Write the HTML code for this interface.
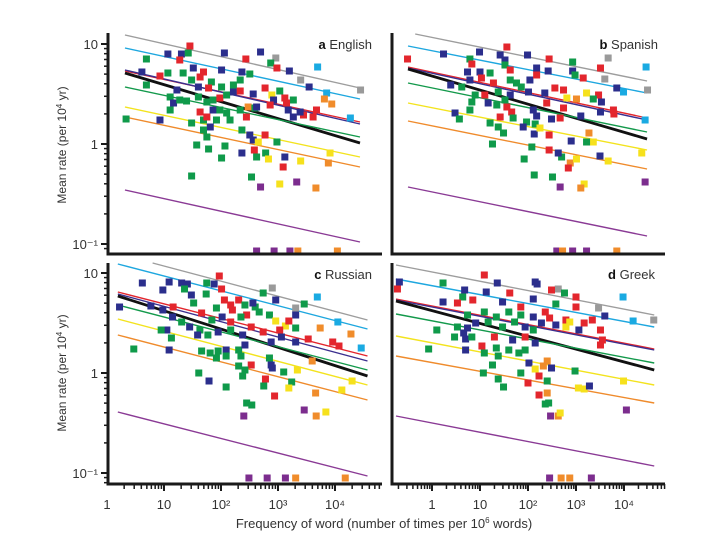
<!DOCTYPE html>
<html><head><meta charset="utf-8"><style>
html,body{margin:0;padding:0;background:#fff;}
svg{display:block;font-family:"Liberation Sans",sans-serif;}
</style></head><body>
<svg id="chart" width="720" height="540" viewBox="0 0 720 540" xmlns="http://www.w3.org/2000/svg">
<text x="0" y="0" transform="translate(66,145) rotate(-90)" text-anchor="middle" font-size="12" fill="#333">Mean rate (per 10<tspan font-size="8" dy="-4">4</tspan><tspan dy="4"> yr)</tspan></text>
<text x="0" y="0" transform="translate(66,373) rotate(-90)" text-anchor="middle" font-size="12" fill="#333">Mean rate (per 10<tspan font-size="8" dy="-4">4</tspan><tspan dy="4"> yr)</tspan></text>
<text x="384" y="528" text-anchor="middle" font-size="13" fill="#333">Frequency of word (number of times per 10<tspan font-size="8" dy="-5">6</tspan><tspan dy="5"> words)</tspan></text>
</svg>
<script>
const lineColors=["#9d9d9d","#1ea7df","#e3262d","#3b2f8f","#111111","#13994b","#f3e31e","#ef8b2c","#8a3a95"];
const pointColors={R:"#e3262d",N:"#2b2e8c",G:"#0f9a4a",Y:"#f6e11c",O:"#f08c2b",C:"#1aaae2",A:"#9a9a9a",P:"#7c2d8e"};
// per-panel line values (log10 rate at start / end), and x range (log10 freq)
const aLineStart=[1.09,0.96,0.73,0.74,0.71,0.57,0.37,0.27,-0.46];
const aLineEnd=[0.56,0.45,0.22,0.20,0.01,0.07,-0.13,-0.23,-0.98];
const bLineStart=[1.10,0.98,0.77,0.76,0.75,0.61,0.41,0.23,-0.43];
const bLineEnd=[0.63,0.51,0.26,0.24,0.05,0.12,-0.06,-0.25,-0.92];
const cLineStart=[1.10,1.09,0.81,0.79,0.77,0.68,0.54,0.38,-0.39];
const cLineEnd=[0.53,0.44,0.17,0.12,-0.03,0.03,-0.12,-0.27,-1.03];
const dLineStart=[1.08,0.94,0.74,0.73,0.72,0.59,0.37,0.17,-0.43];
const dLineEnd=[0.58,0.46,0.24,0.23,0.03,0.10,-0.12,-0.30,-0.93];
const aLineX=[0.30,4.46]; const bLineX=[-0.50,4.48]; const cLineX=[0.19,4.57]; const dLineX=[-0.75,4.63];
const aGrayX0=0.30, bGrayX0=-0.35, cGrayX0=0.80, dGrayX0=-0.75;
// scatter points: log10 frequency, log10 rate, color code
const aFreq=[1.45,1.06,1.30,1.27,1.42,0.68,2.06,2.70,2.44,2.97,2.88,2.99,3.21,3.41,3.71,3.56,4.47,3.87,3.83,3.96,4.29,0.60,1.06,1.33,0.92,1.69,1.48,1.51,1.63,2.01,2.37,2.51,2.34,1.83,2.01,2.22,1.78,1.60,1.22,1.10,1.16,1.27,1.39,1.60,1.75,1.86,1.98,2.10,2.22,2.34,2.57,2.78,3.04,2.90,3.13,3.28,3.16,2.93,2.87,0.68,0.32,0.92,1.10,1.63,1.69,1.75,1.86,1.98,2.10,1.81,1.92,2.16,2.34,2.48,2.60,2.45,2.63,1.48,1.69,1.75,1.57,1.78,2.07,2.01,2.37,2.51,2.57,2.78,2.66,2.37,2.59,2.63,2.79,2.99,2.84,3.13,3.10,3.41,3.93,3.90,1.48,2.54,2.70,3.04,3.34,3.68,3.28,3.46,3.69,3.63,3.19,3.40,2.63,2.94,3.22,3.36,4.06];
const aRate=[0.98,0.90,0.90,0.84,0.91,0.85,0.91,0.92,0.85,0.86,0.81,0.76,0.73,0.64,0.77,0.57,0.54,0.51,0.45,0.40,0.26,0.72,0.71,0.71,0.68,0.72,0.64,0.76,0.67,0.74,0.72,0.70,0.64,0.62,0.57,0.59,0.56,0.57,0.54,0.47,0.41,0.44,0.43,0.47,0.42,0.44,0.46,0.49,0.52,0.53,0.50,0.56,0.53,0.49,0.46,0.44,0.41,0.44,0.39,0.59,0.25,0.24,0.34,0.32,0.24,0.27,0.34,0.34,0.31,0.17,0.24,0.24,0.34,0.37,0.36,0.27,0.37,0.21,0.14,0.07,-0.01,-0.05,-0.02,-0.14,0.14,0.09,0.04,0.09,0.02,-0.09,-0.06,-0.13,-0.09,0.02,-0.15,-0.13,-0.23,-0.17,-0.09,-0.19,-0.32,-0.33,-0.43,-0.40,-0.38,-0.44,0.27,0.29,0.34,0.27,0.34,0.32,-1.07,-1.07,-1.07,-1.07,-1.07];
const aCol="RNNRGGNNRAGRNACNACOOCNGGRRGNRNNGGGGGRNNGNGGGGGRGNRNRGYRGRNRGGNGRGRNGGNGGGOGRNGGGGGGGGNNRYNRGGGYNRYYOGGPYPONRRRNNPPPOO";
const bFreq=[-0.51,0.24,1.56,0.99,1.42,1.52,0.79,0.83,1.52,1.63,1.99,2.44,2.93,3.51,3.67,4.46,2.18,2.42,2.93,2.98,3.15,3.60,0.74,1.00,1.21,1.03,0.79,1.28,0.39,0.62,1.63,1.76,1.86,2.04,2.18,2.01,2.56,2.74,2.35,0.90,1.10,1.38,1.63,1.52,0.83,1.17,1.35,1.56,1.66,0.79,0.48,0.57,1.42,1.69,2.11,2.18,1.97,2.39,2.49,2.67,2.74,2.81,3.01,3.22,3.47,3.36,3.53,3.51,3.78,3.79,3.10,3.85,3.99,4.49,4.44,1.21,1.38,1.49,1.26,1.90,2.13,2.15,2.44,2.25,3.27,3.36,2.90,3.22,2.08,2.44,1.92,2.70,2.63,2.88,2.84,3.01,3.50,3.67,4.37,2.13,2.51,2.67,3.17,3.10,4.44,2.60,2.72,2.93,3.22,3.85];
const bRate=[0.85,0.90,0.97,0.92,0.89,0.84,0.85,0.80,0.79,0.74,0.89,0.85,0.82,0.76,0.86,0.77,0.76,0.73,0.73,0.69,0.66,0.65,0.72,0.72,0.71,0.66,0.64,0.61,0.59,0.57,0.64,0.61,0.57,0.64,0.69,0.52,0.56,0.54,0.51,0.49,0.49,0.52,0.49,0.44,0.42,0.41,0.39,0.37,0.32,0.34,0.31,0.25,0.27,0.26,0.34,0.28,0.22,0.41,0.25,0.26,0.36,0.46,0.45,0.51,0.49,0.45,0.42,0.32,0.34,0.30,0.28,0.56,0.52,0.54,0.24,0.21,0.17,0.11,0.00,0.17,0.10,0.20,0.09,0.16,0.11,0.02,0.03,0.02,-0.03,-0.06,-0.15,-0.13,-0.09,-0.19,-0.24,-0.15,-0.12,-0.17,-0.09,-0.31,-0.33,-0.43,-0.40,-0.44,-0.38,-1.07,-1.07,-1.07,-1.07,-1.07];
const bCol="RNRNNNGRGRNRGRACNNNGRANNGRNRNGGGGNRNRRNGRGNGGNGRRGNGRGNNGRNRRYOYRGNNRRNNCACGGGGNNGRYOYNGGRGGNORYNYYGGPYOPPOPPO";
const cFreq=[1.97,0.62,1.09,0.98,1.31,1.41,1.75,1.88,2.01,1.36,1.48,1.74,2.90,2.74,2.96,3.46,3.31,3.69,3.31,4.05,3.74,4.28,4.46,0.22,0.77,1.16,0.98,1.66,1.52,2.06,2.17,2.31,2.42,2.60,2.67,2.45,2.56,2.20,1.92,2.02,1.84,2.35,2.17,2.85,2.96,3.13,3.19,3.31,1.15,1.31,1.45,1.63,1.05,1.13,0.95,1.59,1.77,1.95,2.17,2.38,2.53,2.74,3.03,3.06,3.53,3.96,4.07,3.31,1.09,0.47,1.66,1.81,1.95,2.09,1.92,2.09,2.31,2.35,2.42,2.88,2.85,2.88,2.53,2.31,3.60,1.61,2.38,2.42,1.79,2.90,2.78,3.10,3.34,3.24,2.09,2.75,3.19,2.94,3.66,4.12,4.30,2.45,2.54,2.40,3.46,3.67,3.84,2.49,2.81,3.13,3.31,4.18];
const cRate=[0.97,0.90,0.91,0.83,0.90,0.89,0.90,0.89,0.84,0.84,0.78,0.79,0.85,0.80,0.73,0.69,0.65,0.76,0.58,0.51,0.45,0.39,0.25,0.66,0.67,0.66,0.63,0.60,0.70,0.73,0.68,0.73,0.68,0.66,0.61,0.58,0.70,0.63,0.65,0.56,0.53,0.56,0.51,0.58,0.52,0.47,0.52,0.45,0.56,0.51,0.46,0.43,0.43,0.35,0.43,0.38,0.38,0.41,0.43,0.38,0.46,0.41,0.43,0.36,0.34,0.31,0.27,0.31,0.23,0.24,0.22,0.20,0.22,0.23,0.15,0.17,0.23,0.17,0.28,0.31,0.15,0.08,0.08,0.07,0.12,0.00,-0.03,0.03,-0.08,0.05,-0.06,0.01,0.03,-0.09,-0.14,-0.13,-0.15,-0.23,-0.20,-0.17,-0.08,-0.30,-0.32,-0.43,-0.37,-0.43,-0.39,-1.05,-1.05,-1.05,-1.05,-1.05];
const cCol="RNNNNNGNRGNGAGNGACNCOOCNNRNRGRRRGGGRNRGNGGRGYYRGNGNGNGGNGNGNRRRNRRRNNGGGGNGGGGNNGNRGOGGGNNRGYGGGYROYYGGPPOYPPPOO";
const dFreq=[-0.68,-0.72,0.23,1.09,1.36,2.15,2.19,2.63,2.49,2.76,1.62,0.68,0.64,1.13,0.85,0.23,0.53,1.47,1.85,2.11,2.58,3.00,3.00,3.47,3.60,3.98,4.19,4.62,2.36,2.45,2.11,2.79,2.87,2.79,3.17,3.34,3.06,3.51,3.55,3.51,2.58,0.74,1.09,1.34,1.60,1.85,0.91,0.53,0.74,1.17,1.47,1.72,1.94,2.11,2.28,0.10,0.47,0.66,0.70,0.83,1.30,1.68,1.94,2.15,-0.07,0.70,1.09,1.34,1.60,1.38,1.04,1.81,1.94,2.02,2.40,2.32,1.26,2.15,2.49,2.98,2.23,1.07,1.38,1.49,1.85,2.00,2.40,2.40,2.23,3.05,3.17,3.28,3.99,2.36,2.43,2.47,2.63,2.67,4.05,2.45,2.69,2.87,3.32];
const dRate=[0.91,0.84,0.90,0.98,0.90,0.91,0.89,0.84,0.83,0.80,0.80,0.83,0.76,0.81,0.73,0.71,0.70,0.71,0.66,0.74,0.69,0.76,0.66,0.65,0.57,0.76,0.52,0.53,0.61,0.55,0.56,0.53,0.51,0.46,0.50,0.53,0.43,0.43,0.33,0.28,0.48,0.58,0.61,0.56,0.61,0.58,0.50,0.46,0.45,0.51,0.46,0.51,0.46,0.43,0.50,0.43,0.36,0.40,0.34,0.36,0.36,0.33,0.36,0.30,0.24,0.23,0.20,0.25,0.23,0.17,0.27,0.20,0.23,0.10,0.12,0.07,0.08,0.04,0.05,0.02,-0.03,0.00,-0.06,-0.14,0.00,-0.10,-0.08,-0.20,-0.22,-0.15,-0.16,-0.13,-0.08,-0.31,-0.30,-0.43,-0.43,-0.40,-0.37,-1.05,-1.05,-1.05,-1.05];
const dCol="NRGRNNNARGRNGNRNRNRNGRRANCCARRNRYYRRNRRRNGGGGGNGNGGGNGNGGNNGRNRNGNGGGGRGGNOOGYNGRGGGGRGORYYNYGGPOYPPOOP";
const yTickVals=[-1,0,1];
const yTickLabels=["10\u207B\u00B9","1","10"];
const xTickVals=[0,1,2,3,4];
const xTickLabels=["1","10","10\u00B2","10\u00B3","10\u2074"];

const NS="http://www.w3.org/2000/svg";
const svg=document.getElementById("chart");
function mk(tag,attrs,parent){const e=document.createElementNS(NS,tag);for(const k in attrs)e.setAttribute(k,attrs[k]);(parent||svg).appendChild(e);return e;}

const panels=[
 {id:"a",name:"English",left:108,right:382,top:33,bottom:254,x1:108,xs:56.5,y10:44,lineStart:aLineStart,lineEnd:aLineEnd,lineX:aLineX,grayX0:aGrayX0,freq:aFreq,rate:aRate,col:aCol,yTicks:true,xTicks:false,labelX:372},
 {id:"b",name:"Spanish",left:392,right:665,top:33,bottom:254,x1:432,xs:48,y10:44,lineStart:bLineStart,lineEnd:bLineEnd,lineX:bLineX,grayX0:bGrayX0,freq:bFreq,rate:bRate,col:bCol,yTicks:false,xTicks:false,labelX:658},
 {id:"c",name:"Russian",left:108,right:382,top:263,bottom:484,x1:107,xs:57,y10:273,lineStart:cLineStart,lineEnd:cLineEnd,lineX:cLineX,grayX0:cGrayX0,freq:cFreq,rate:cRate,col:cCol,yTicks:true,xTicks:true,labelX:372},
 {id:"d",name:"Greek",left:392,right:665,top:263,bottom:484,x1:432,xs:48,y10:273,lineStart:dLineStart,lineEnd:dLineEnd,lineX:dLineX,grayX0:dGrayX0,freq:dFreq,rate:dRate,col:dCol,yTicks:false,xTicks:true,labelX:655}
];

panels.forEach(p=>{
  const xS=v=>p.x1+v*p.xs;
  const yS=v=>p.y10+(1-v)*100;
  const g=mk("g",{});
  
  
  // regression lines
  for(let i=0;i<p.lineStart.length;i++){
    const x0=p.lineX[0],x1=p.lineX[1];
    let sx=x0, sv=p.lineStart[i];
    if(i===0){sx=p.grayX0;}
    const l=mk("line",{x1:xS(sx),y1:yS(sv),x2:xS(x1),y2:yS(p.lineEnd[i]),stroke:lineColors[i],"stroke-width":i===4?2.8:1.4},g);
    
    
  }
  // points
  for(let i=0;i<p.freq.length;i++){
    const r=mk("rect",{x:xS(p.freq[i])-3.5,y:yS(p.rate[i])-3.5,width:7,height:7,fill:pointColors[p.col[i]]||"#0f9a4a"},g);
    
    
  }
  // axes
  const ax=mk("path",{d:`M${p.left} ${p.top} L${p.left} ${p.bottom} L${p.right} ${p.bottom}`,fill:"none",stroke:"#1a1a1a","stroke-width":3},g);
  
  
  // panel label
  const t=mk("text",{x:p.labelX,y:p.top+16,"text-anchor":"end","font-size":13,fill:"#333"},g);
  
  
  t.innerHTML=`<tspan font-weight="bold" fill="#111">${p.id}</tspan> ${p.name}`;
  if(p.yTicks){
    for(let d=-2;d<=1;d++){
      for(let m=1;m<=9;m++){
        const lv=d+Math.log10(m);
        const y=yS(lv);
        if(y<p.top||y>p.bottom-1)continue;
        const tk=mk("line",{x1:p.left-(m===1?7:4),y1:y,x2:p.left,y2:y,stroke:"#1a1a1a","stroke-width":m===1?2:1.5},g);
        
        
      }
    }
    yTickVals.forEach((v,i)=>{
      const tl=mk("text",{x:p.left-10,y:yS(v)+5,"text-anchor":"end","font-size":13,fill:"#333"},g);
      
      
      tl.textContent=yTickLabels[i];
    });
  }
  if(p.xTicks){
    for(let d=-2;d<=5;d++){
      for(let m=1;m<=9;m++){
        const x=xS(d+Math.log10(m));
        if(x<p.left||x>p.right)continue;
        const tk=mk("line",{x1:x,y1:p.bottom,x2:x,y2:p.bottom+(m===1?7:5),stroke:"#1a1a1a","stroke-width":m===1?2:1.5},g);
        
        
      }
    }
    xTickVals.forEach((v,i)=>{
      const tl=mk("text",{x:xS(v),y:p.bottom+25,"text-anchor":"middle","font-size":13,fill:"#333"},g);
      
      
      tl.textContent=xTickLabels[i];
    });
  }
});
</script>
</body></html>
